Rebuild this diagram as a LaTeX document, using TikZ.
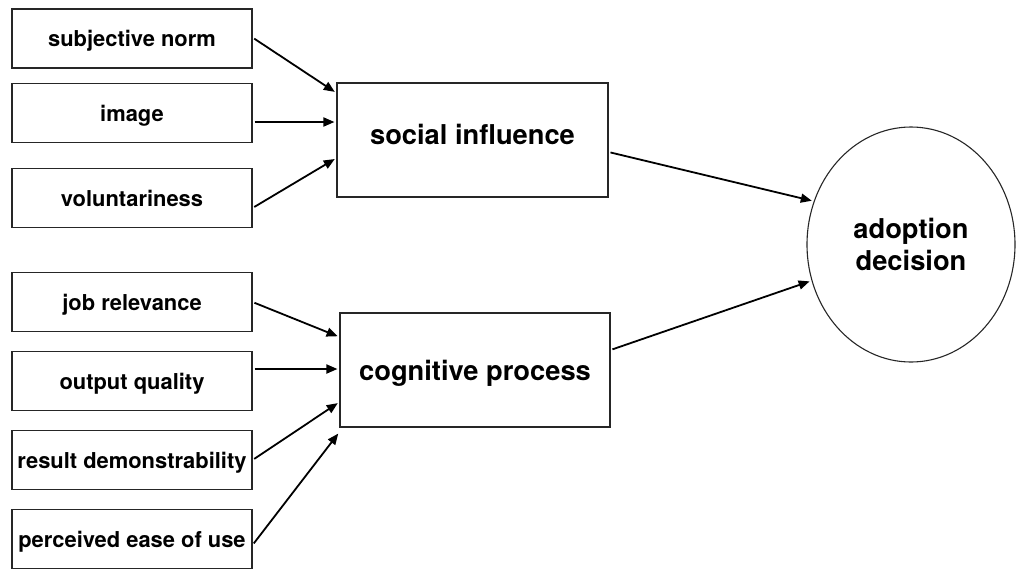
\documentclass[tikz,border=0pt]{standalone}
\usepackage{fontspec}
\setmainfont{TeX Gyre Heros}
\usetikzlibrary{arrows.meta,shapes.geometric}
\begin{document}
\begin{tikzpicture}[x=1pt,y=-1pt,
  factor/.style={draw=black!85,line width=1.1pt,rectangle,inner sep=0pt,
    minimum width=240pt,minimum height=59pt,text height=16pt,text depth=0pt,
    font=\fontsize{21.9}{26}\selectfont\bfseries},
  construct/.style={draw=black!85,line width=1.1pt,rectangle,inner sep=0pt,
    minimum width=271pt,minimum height=114pt,text height=20.5pt,text depth=0pt,
    font=\fontsize{27.3}{32}\selectfont\bfseries},
  outcome/.style={draw=black!85,line width=1.1pt,ellipse,inner sep=0pt,
    minimum width=208pt,minimum height=235pt,align=center,
    font=\fontsize{27.3}{32}\selectfont\bfseries},
  link/.style={line width=1.8pt,-{Triangle[length=11pt,width=9pt]},
    shorten <=2pt,shorten >=2pt}]
\useasboundingbox (0,0) rectangle (1017,571);

% input factors
\node[factor] (sn)  at (132,38.5) {subjective norm};
\node[factor] (img) at (132,113)  {image};
\node[factor] (vol) at (132,198)  {voluntariness};
\node[factor] (job) at (132,302)  {job relevance};
\node[factor] (out) at (132,381)  {output quality};
\node[factor] (res) at (132,460)  {result demonstrability};
\node[factor] (peu) at (132,539)  {perceived ease of use};

% intermediate constructs
\node[construct,text depth=12.5pt] (soc) at (472.5,140) {social influence};
\node[construct,minimum width=270pt] (cog) at (475,370) {cognitive process};

% outcome
\node[outcome] (adop) at (911,244.5) {adoption\\decision};

% connectors
\draw[link] ([yshift=1pt]sn.east)  -- ([yshift=47pt]soc.west);
\draw[link] ([yshift=-9pt]img.east) -- ([yshift=18pt]soc.west);
\draw[link] ([yshift=-10pt]vol.east) -- ([yshift=-18pt]soc.west);

\draw[link] (job.east) -- ([yshift=33pt]cog.west);
\draw[link] ([yshift=12pt]out.east) -- ([yshift=1pt]cog.west);
\draw[link] (res.east) -- ([yshift=-32pt]cog.west);
\draw[link] ([yshift=-6pt]peu.east) -- ([yshift=-62pt]cog.west);

\draw[link] ([yshift=-12pt]soc.east) -- (adop.156);
\draw[link] ([yshift=20pt]cog.east) -- (adop.200);
\end{tikzpicture}
\end{document}
